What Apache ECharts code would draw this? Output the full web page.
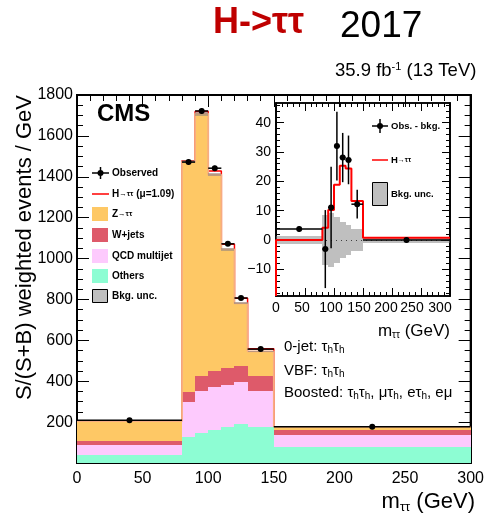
<!DOCTYPE html>
<html><head><meta charset="utf-8">
<script src="https://cdn.jsdelivr.net/npm/echarts@6/dist/echarts.min.js"></script>
<style>html,body{margin:0;padding:0;background:#fff}#c{width:487px;height:516px}</style>
</head><body><div id="c"></div>
<script>
// ---- data ----
const binEdges    = [0, 80, 90, 100, 110, 120, 130, 150, 300];
const binCenters  = [40, 85, 95, 105, 115, 125, 140, 225];
const others      = [37, 127, 147, 160, 176, 192, 174, 78];
const qcd         = [49, 169, 203, 210, 204, 202, 180, 60];
const wjets       = [23, 53, 74, 78, 84, 82, 73, 25];
const ztt         = [96, 1125, 1285, 962, 581, 305, 119, 14];
const hSignal     = [0, 4.2, 10.2, 18.8, 25.3, 24.4, 13.3, 0.8];
const bkgUnc      = [1.5, 8.4, 9.3, 7.8, 6.0, 5.2, 3.8, 1.0];
const observed    = [209, 1472, 1722, 1442, 1072, 807, 557, 177];
const obsErr      = [1.0, 13.3, 13.9, 11.7, 8.4, 8.3, 4.9, 1.0];
const obsMinusBkg = [3.7, -3.1, 11.1, 32.0, 28.1, 27.3, 12.2, 0.0];
const insetYLabels = [-10, 0, 10, 20, 30, 40];
const insetYMinor  = [-18, -16, -14, -12, -8, -6, -4, -2, 2, 4, 6, 8, 12, 14, 16, 18, 22, 24, 26, 28, 32, 34, 36, 38, 42, 44, 46];

// ---- derived tables ----
const FONT = 'Liberation Sans, Arial, Helvetica, sans-serif';
const cumOthers = others.slice();
const cumQcd = cumOthers.map((v, i) => v + qcd[i]);
const cumW = cumQcd.map((v, i) => v + wjets[i]);
const cumZ = cumW.map((v, i) => v + ztt[i]);
const cumH = cumZ.map((v, i) => v + hSignal[i]);
const lows = binEdges.slice(0, -1), highs = binEdges.slice(1);
const rectData = (base, top) => lows.map((lo, i) => [lo, highs[i], base ? base[i] : 0, top[i]]);
const stepData = (vals) => { const d = vals.map((v, i) => [binEdges[i], v]); d.push([binEdges[binEdges.length - 1], vals[vals.length - 1]]); return d; };
const INSET_YMIN = -19.1, INSET_YMAX = 46.7;

function rectRender(fill) {
  return (params, api) => {
    const a = api.coord([api.value(0), api.value(3)]);
    const b = api.coord([api.value(1), api.value(2)]);
    const x0 = Math.round(a[0]), x1 = Math.round(b[0]), y0 = Math.round(a[1]), y1 = Math.round(b[1]);
    return { type: 'rect', shape: { x: x0, y: y0, width: x1 - x0, height: y1 - y0 }, style: { fill: fill } };
  };
}
function errRender(r, lw) {
  return (params, api) => {
    const x = api.value(0), lo = api.value(1), hi = api.value(2), y = api.value(3), e = api.value(4);
    const pL = api.coord([lo, y]), pR = api.coord([hi, y]), pT = api.coord([x, y + e]), pB = api.coord([x, y - e]), pC = api.coord([x, y]);
    return { type: 'group', children: [
      { type: 'line', shape: { x1: pL[0], y1: pC[1], x2: pR[0], y2: pC[1] }, style: { stroke: '#000', lineWidth: lw } },
      { type: 'line', shape: { x1: pC[0], y1: pT[1], x2: pC[0], y2: pB[1] }, style: { stroke: '#000', lineWidth: lw } },
      { type: 'circle', shape: { cx: pC[0], cy: pC[1], r: r }, style: { fill: '#000' } }
    ] };
  };
}
function mkAxis(gridIndex, pos, min, max, lw, majLen, minLen, extra) {
  const ax = {
    gridIndex: gridIndex, type: 'value', position: pos, min: min, max: max,
    axisLine: { show: true, onZero: false, lineStyle: { color: '#000', width: lw } },
    axisTick: { show: true, inside: true, length: majLen, lineStyle: { color: '#000', width: 1 } },
    minorTick: { show: minLen > 0, length: minLen, lineStyle: { color: '#000', width: 1 } },
    axisLabel: { show: false },
    splitLine: { show: false }
  };
  Object.keys(extra).forEach(k => {
    if (typeof extra[k] === 'object' && !Array.isArray(extra[k]) && ax[k]) ax[k] = Object.assign({}, ax[k], extra[k]);
    else ax[k] = extra[k];
  });
  return ax;
}

const insetXShift = { 0: 0, 50: 3, 100: 3, 150: 4, 200: 6, 250: 9, 300: 10 };
const insetXRich = {};
Object.keys(insetXShift).forEach(k => { insetXRich['l' + k] = { fontSize: 14, fontFamily: FONT, color: '#000', padding: [0, 2 * insetXShift[k], 0, 0] }; });

const mainXLabel = { show: true, fontSize: 16, color: '#000', margin: 8, fontFamily: FONT };
const mainYLabel = { show: true, fontSize: 16, color: '#000', margin: 4, fontFamily: FONT, formatter: v => v === 0 ? '' : String(v) };
const insetXLabel = { show: true, margin: 5, formatter: v => '{l' + v + '|' + v + '}', rich: insetXRich };
const insetYLabel = { show: true, fontSize: 14, color: '#000', margin: 5, fontFamily: FONT, customValues: insetYLabels, formatter: v => v < 0 ? '\u2212' + (-v) : String(v) };
const dummy = (xi, yi) => ({ type: 'line', xAxisIndex: xi, yAxisIndex: yi, data: [] });
const richSub = (size, sub) => ({ a: { font: size + 'px ' + FONT, fill: '#000', lineHeight: size + 2 }, s: { font: sub + 'px ' + FONT, fill: '#000', lineHeight: sub, verticalAlign: 'bottom' } });
const legendRich = (size, small) => ({ b: { font: 'bold ' + size + 'px ' + FONT, fill: '#000', lineHeight: 12 }, sm: { font: 'bold ' + small + 'px ' + FONT, fill: '#000', lineHeight: 12 } });

const chart = echarts.init(document.getElementById('c'));
const option = {
  animation: false,
  grid: [
    { left: 77, right: 11, top: 95, bottom: 53, show: true, backgroundColor: 'rgba(0,0,0,0)', borderColor: '#000', borderWidth: 2 },
    { left: 276, right: 37, top: 103, bottom: 220, show: true, backgroundColor: '#fff', borderColor: '#000', borderWidth: 1.5 }
  ],
  xAxis: [
    mkAxis(0, 'bottom', 0, 300, 2, 12, 6, { interval: 50, minorTick: { splitNumber: 5 }, axisLabel: mainXLabel }),
    mkAxis(0, 'top', 0, 300, 2, 12, 6, { interval: 50, minorTick: { splitNumber: 5 } }),
    mkAxis(1, 'bottom', 0, 300, 1.5, 8, 4, { interval: 50, minorTick: { splitNumber: 5 }, axisLabel: insetXLabel }),
    mkAxis(1, 'top', 0, 300, 1.5, 8, 4, { interval: 50, minorTick: { splitNumber: 5 } })
  ],
  yAxis: [
    mkAxis(0, 'left', 0, 1800, 2, 12, 6, { interval: 200, minorTick: { splitNumber: 4 }, axisLabel: mainYLabel }),
    mkAxis(0, 'right', 0, 1800, 2, 12, 6, { interval: 200, minorTick: { splitNumber: 4 } }),
    mkAxis(1, 'left', INSET_YMIN, INSET_YMAX, 1.5, 8, 0, { axisTick: { customValues: insetYLabels }, axisLabel: insetYLabel }),
    mkAxis(1, 'left', INSET_YMIN, INSET_YMAX, 1.5, 4, 0, { axisTick: { customValues: insetYMinor } }),
    mkAxis(1, 'right', INSET_YMIN, INSET_YMAX, 1.5, 8, 0, { axisTick: { customValues: insetYLabels } }),
    mkAxis(1, 'right', INSET_YMIN, INSET_YMAX, 1.5, 4, 0, { axisTick: { customValues: insetYMinor } })
  ],
  series: [
    // main plot
    { type: 'line', name: 'H\u2192\u03c4\u03c4', xAxisIndex: 0, yAxisIndex: 0, step: 'end', data: stepData(cumH), showSymbol: false, z: 1,
      lineStyle: { color: '#ff0000', width: 1.5 } },
    { type: 'custom', name: 'Others', xAxisIndex: 0, yAxisIndex: 0, z: 2, renderItem: rectRender('#8dfdd3'), data: rectData(null, cumOthers) },
    { type: 'custom', name: 'QCD multijet', xAxisIndex: 0, yAxisIndex: 0, z: 2, renderItem: rectRender('#fdcafd'), data: rectData(cumOthers, cumQcd) },
    { type: 'custom', name: 'W+jets', xAxisIndex: 0, yAxisIndex: 0, z: 2, renderItem: rectRender('#de5a6a'), data: rectData(cumQcd, cumW) },
    { type: 'custom', name: 'Z\u2192\u03c4\u03c4', xAxisIndex: 0, yAxisIndex: 0, z: 2, renderItem: rectRender('#fec865'), data: rectData(cumW, cumZ) },
    { type: 'line', name: 'Z outline', xAxisIndex: 0, yAxisIndex: 0, step: 'end', data: stepData(cumZ), showSymbol: false, z: 3,
      lineStyle: { color: '#f7ad80', width: 1.8 } },
    { type: 'custom', name: 'Bkg. unc.', xAxisIndex: 0, yAxisIndex: 0, z: 4, renderItem: rectRender('rgba(128,128,128,0.5)'),
      data: lows.map((lo, i) => [lo, highs[i], cumZ[i] - bkgUnc[i], cumZ[i] + bkgUnc[i]]) },
    { type: 'custom', name: 'Observed', xAxisIndex: 0, yAxisIndex: 0, z: 5, renderItem: errRender(3, 1.5),
      data: binCenters.map((c, i) => [c, lows[i], highs[i], observed[i], obsErr[i]]) },
    // inset
    { type: 'custom', name: 'Bkg. unc. (inset)', xAxisIndex: 2, yAxisIndex: 2, z: 5, renderItem: rectRender('rgba(128,128,128,0.5)'),
      data: lows.map((lo, i) => [lo, highs[i], -bkgUnc[i], bkgUnc[i]]),
      markLine: { silent: true, symbol: 'none', label: { show: false }, lineStyle: { color: '#000', type: [1, 4], width: 1 }, data: [{ yAxis: 0 }] } },
    { type: 'line', name: 'H\u2192\u03c4\u03c4 (inset)', xAxisIndex: 2, yAxisIndex: 2, step: 'end', showSymbol: false, z: 6,
      data: [[binEdges[0], INSET_YMIN]].concat(stepData(hSignal)), lineStyle: { color: '#ff0000', width: 2 } },
    { type: 'custom', name: 'Obs. - bkg.', xAxisIndex: 2, yAxisIndex: 2, z: 7, renderItem: errRender(3, 1.5),
      data: binCenters.map((c, i) => [c, lows[i], highs[i], obsMinusBkg[i], obsErr[i]]) },
    dummy(1, 1), dummy(3, 3), dummy(3, 4), dummy(3, 5)
  ],
  graphic: [
    { type: 'text', x: 213, y: 23.5, style: { text: 'H->\u03c4\u03c4', font: 'bold 36px ' + FONT, fill: '#bf0000', align: 'left', verticalAlign: 'middle' } },
    { type: 'text', x: 340, y: 27, style: { text: '2017', font: '37px ' + FONT, fill: '#000', align: 'left', verticalAlign: 'middle' } },
    { type: 'text', x: 335, y: 71, style: { text: '{a|35.9 fb}{sup|-1}{a| (13 TeV)}', align: 'left', verticalAlign: 'middle',
      rich: { a: { font: '18.5px ' + FONT, lineHeight: 20, fill: '#000' }, sup: { font: '11px ' + FONT, verticalAlign: 'top', lineHeight: 11, fill: '#000' } } } },
    { type: 'text', x: 97, y: 114, z: 10, style: { text: 'CMS', font: 'bold 24px ' + FONT, fill: '#000', align: 'left', verticalAlign: 'middle' } },
    { type: 'text', x: 25, y: 95, rotation: Math.PI / 2, style: { text: 'S/(S+B) weighted events / GeV', font: '22px ' + FONT, fill: '#000', align: 'right', verticalAlign: 'middle' } },
    { type: 'text', x: 475, y: 502, style: { text: '{a|m}{s|\u03c4\u03c4}{a| (GeV)}', align: 'right', verticalAlign: 'middle', rich: richSub(22, 13) } },
    { type: 'text', x: 450, y: 331, z: 10, style: { text: '{a|m}{s|\u03c4\u03c4}{a| (GeV)}', align: 'right', verticalAlign: 'middle', rich: richSub(17, 10) } },
    { type: 'text', x: 284, y: 347, z: 10, style: { text: '{a|0-jet: \u03c4}{s|h}{a|\u03c4}{s|h}', align: 'left', verticalAlign: 'middle', rich: richSub(15, 10) } },
    { type: 'text', x: 284, y: 371, z: 10, style: { text: '{a|VBF: \u03c4}{s|h}{a|\u03c4}{s|h}', align: 'left', verticalAlign: 'middle', rich: richSub(15, 10) } },
    { type: 'text', x: 284, y: 393, z: 10, style: { text: '{a|Boosted: \u03c4}{s|h}{a|\u03c4}{s|h}{a|, \u03bc\u03c4}{s|h}{a|, e\u03c4}{s|h}{a|, e\u03bc}', align: 'left', verticalAlign: 'middle', rich: richSub(15, 10) } },
    // main legend
    { type: 'group', z: 10, children: [
      { type: 'line', shape: { x1: 92, y1: 173, x2: 109, y2: 173 }, style: { stroke: '#000', lineWidth: 1.5 } },
      { type: 'line', shape: { x1: 100.5, y1: 167, x2: 100.5, y2: 179 }, style: { stroke: '#000', lineWidth: 1.5 } },
      { type: 'circle', shape: { cx: 100.5, cy: 173, r: 3 }, style: { fill: '#000' } },
      { type: 'text', x: 112, y: 173, style: { text: 'Observed', font: 'bold 10px ' + FONT, fill: '#000', verticalAlign: 'middle' } },
      { type: 'line', shape: { x1: 92, y1: 194, x2: 109, y2: 194 }, style: { stroke: '#ff0000', lineWidth: 1.5 } },
      { type: 'text', x: 112, y: 194, style: { text: '{b|H}{sm|\u2192\u03c4\u03c4}{b| (\u03bc=1.09)}', verticalAlign: 'middle', rich: legendRich(10, 7.5) } },
      { type: 'rect', shape: { x: 92, y: 207, width: 16, height: 14 }, style: { fill: '#fec865' } },
      { type: 'text', x: 112, y: 214, style: { text: '{b|Z}{sm|\u2192\u03c4\u03c4}', verticalAlign: 'middle', rich: legendRich(10, 7.5) } },
      { type: 'rect', shape: { x: 92, y: 228, width: 16, height: 14 }, style: { fill: '#de5a6a' } },
      { type: 'text', x: 112, y: 235, style: { text: 'W+jets', font: 'bold 10px ' + FONT, fill: '#000', verticalAlign: 'middle' } },
      { type: 'rect', shape: { x: 92, y: 249, width: 16, height: 14 }, style: { fill: '#fdcafd' } },
      { type: 'text', x: 112, y: 256, style: { text: 'QCD multijet', font: 'bold 10px ' + FONT, fill: '#000', verticalAlign: 'middle' } },
      { type: 'rect', shape: { x: 92, y: 269, width: 16, height: 14 }, style: { fill: '#8dfdd3' } },
      { type: 'text', x: 112, y: 276, style: { text: 'Others', font: 'bold 10px ' + FONT, fill: '#000', verticalAlign: 'middle' } },
      { type: 'rect', shape: { x: 92.5, y: 289.5, width: 15, height: 13 }, style: { fill: '#bfbfbf', stroke: '#000', lineWidth: 1 } },
      { type: 'text', x: 112, y: 296, style: { text: 'Bkg. unc.', font: 'bold 10px ' + FONT, fill: '#000', verticalAlign: 'middle' } }
    ] },
    // inset legend
    { type: 'group', z: 10, children: [
      { type: 'line', shape: { x1: 372, y1: 126, x2: 388, y2: 126 }, style: { stroke: '#000', lineWidth: 1.5 } },
      { type: 'line', shape: { x1: 380, y1: 119, x2: 380, y2: 133 }, style: { stroke: '#000', lineWidth: 1.5 } },
      { type: 'circle', shape: { cx: 380, cy: 126, r: 3 }, style: { fill: '#000' } },
      { type: 'text', x: 391, y: 126, style: { text: 'Obs. - bkg.', font: 'bold 9.5px ' + FONT, fill: '#000', verticalAlign: 'middle' } },
      { type: 'line', shape: { x1: 372, y1: 160, x2: 388, y2: 160 }, style: { stroke: '#ff0000', lineWidth: 1.5 } },
      { type: 'text', x: 391, y: 160, style: { text: '{b|H}{sm|\u2192\u03c4\u03c4}', verticalAlign: 'middle', rich: legendRich(9.5, 7) } },
      { type: 'rect', shape: { x: 372.5, y: 182.5, width: 15, height: 23 }, style: { fill: '#bfbfbf', stroke: '#000', lineWidth: 1 } },
      { type: 'text', x: 391, y: 194, style: { text: 'Bkg. unc.', font: 'bold 9.5px ' + FONT, fill: '#000', verticalAlign: 'middle' } }
    ] }
  ]
};
chart.setOption(option);
chart.getZr().storage.getDisplayList(true, true);
chart.getZr().refreshImmediately();
setTimeout(() => {
  chart.resize();
  chart.getZr().storage.getDisplayList(true, true);
  chart.getZr().refreshImmediately();
}, 150);
</script>
</body></html>
